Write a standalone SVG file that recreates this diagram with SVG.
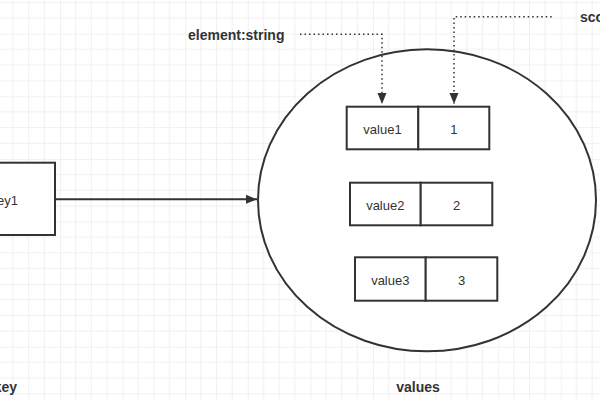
<svg xmlns="http://www.w3.org/2000/svg" width="600" height="400" viewBox="0 0 600 400">
  <defs>
    <pattern id="grid" x="-2.6" y="-28.9" width="62.6" height="62.6" patternUnits="userSpaceOnUse">
      <path d="M15.65 0V62.6M31.3 0V62.6M46.95 0V62.6M0 15.65H62.6M0 31.3H62.6M0 46.95H62.6" stroke="#f0f0f0" stroke-width="1" fill="none"/>
      <path d="M0 0V62.6M0 0H62.6" stroke="#e4e4e4" stroke-width="1" fill="none"/>
    </pattern>
    <marker id="arr" markerWidth="12" markerHeight="10" refX="11" refY="5" orient="auto" markerUnits="userSpaceOnUse">
      <path d="M0 0.5L11 5L0 9.5Z" fill="#333"/>
    </marker>
    <style>
      .box{fill:#fff;stroke:#333;stroke-width:2}
      .t{font-family:"Liberation Sans",Arial,sans-serif;font-size:13px;fill:#333}
      .b{font-family:"Liberation Sans",Arial,sans-serif;font-size:14px;font-weight:bold;fill:#333}
      .dot{fill:none;stroke:#333;stroke-width:1.5;stroke-dasharray:1.5 3}
      .solid{fill:none;stroke:#333;stroke-width:2}
    </style>
  </defs>
  <rect width="600" height="400" fill="#fff"/>
  <rect width="600" height="400" fill="url(#grid)"/>

  <g id="values-set">
    <ellipse cx="427" cy="200.3" rx="169" ry="151" fill="#fff" stroke="#333" stroke-width="2"/>
  </g>

  <g id="key1">
    <rect class="box" x="-40" y="162.7" width="95" height="72.3"/>
    <text class="t" x="18" y="205" text-anchor="end">key1</text>
  </g>

  <g id="row1">
    <rect class="box" x="346.7" y="106.7" width="71.6" height="42.6"/>
    <rect class="box" x="418.3" y="106.7" width="71" height="42.6"/>
    <text class="t" x="382.5" y="133.5" text-anchor="middle">value1</text>
    <text class="t" x="453.8" y="133.5" text-anchor="middle">1</text>
  </g>
  <g id="row2">
    <rect class="box" x="350" y="182.7" width="70.7" height="42.6"/>
    <rect class="box" x="420.7" y="182.7" width="71.6" height="42.6"/>
    <text class="t" x="385.3" y="209.5" text-anchor="middle">value2</text>
    <text class="t" x="456.5" y="209.5" text-anchor="middle">2</text>
  </g>
  <g id="row3">
    <rect class="box" x="355" y="257.3" width="70.7" height="43.4"/>
    <rect class="box" x="425.7" y="257.3" width="71.6" height="43.4"/>
    <text class="t" x="390.3" y="284.5" text-anchor="middle">value3</text>
    <text class="t" x="461.5" y="284.5" text-anchor="middle">3</text>
  </g>

  <g id="label-element">
    <text class="b" x="188" y="40">element:string</text>
  </g>
  <g id="label-score">
    <text class="b" x="580" y="22">sco</text>
  </g>
  <g id="label-key">
    <text class="b" x="17" y="392" text-anchor="end">key</text>
  </g>
  <g id="label-values">
    <text class="b" x="418" y="392" text-anchor="middle">values</text>
  </g>

  <g id="connectors">
    <path class="solid" d="M55 199.3H257" marker-end="url(#arr)"/>
    <path class="dot" d="M300 34.3H382V104" marker-end="url(#arr)"/>
    <path class="dot" d="M551.7 16.7H454V104" marker-end="url(#arr)"/>
  </g>
</svg>
